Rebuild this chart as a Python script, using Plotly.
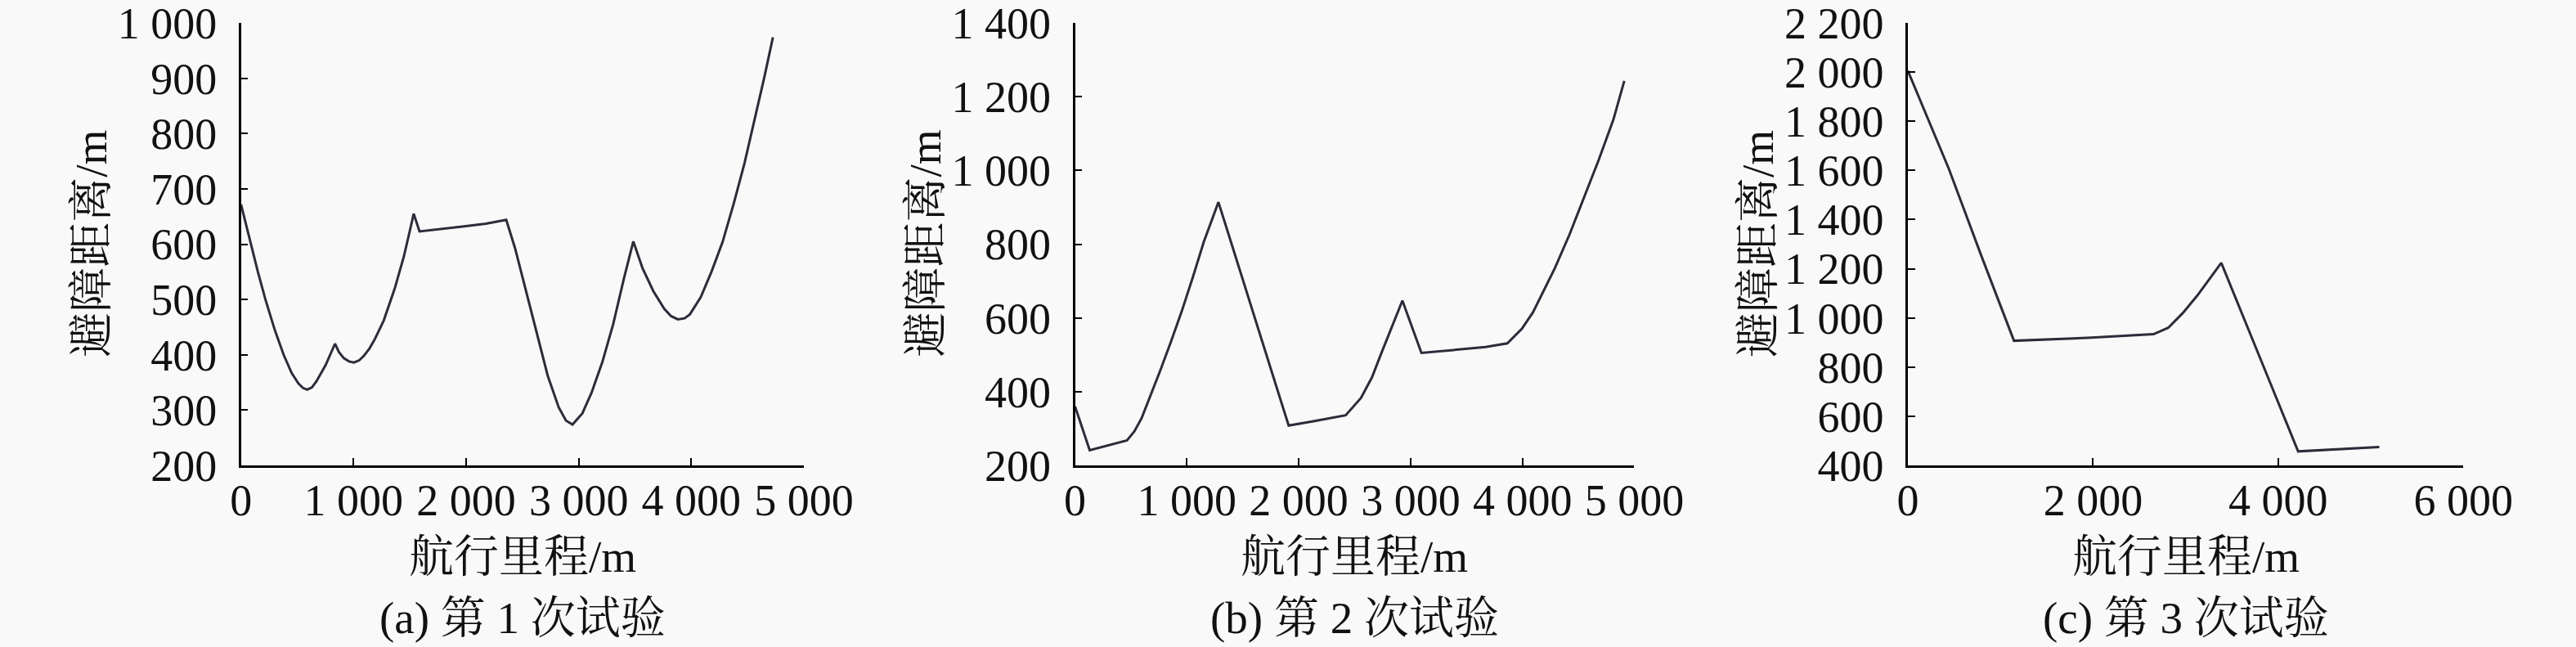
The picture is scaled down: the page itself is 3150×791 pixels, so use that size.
import plotly.graph_objects as go

# ---------------- data ----------------
# (a) trial 1
x1 = [0, 87, 150, 217, 300, 379, 450, 510, 550, 589, 630, 670, 751, 835, 870, 913, 960, 1003, 1050, 1091, 1140,
      1188, 1268, 1366, 1447, 1495, 1534,
      1586, 1786, 1980, 2175, 2356, 2434, 2531, 2628, 2725, 2822, 2887, 2945, 3032, 3113, 3210, 3307, 3404, 3485,
      3566, 3663, 3760, 3820, 3880, 3940, 3987, 4084, 4181, 4278, 4375, 4472, 4569, 4650, 4725]
y1 = [672, 600, 550, 500, 445, 400, 367, 348, 340, 337, 341, 352, 381, 420, 405, 394, 388, 386, 390, 398, 411,
      428, 462, 520, 578, 620, 655,
      623, 627, 632, 637, 644, 593, 515, 436, 362, 305, 281, 274, 294, 331, 387, 456, 540, 605,
      557, 515, 483, 470, 464, 466, 473, 504, 551, 604, 672, 746, 829, 903, 974]

# (b) trial 2
x2 = [0, 131, 464, 530, 595, 677, 759, 857, 955, 1053, 1151, 1282, 1596, 1910, 2132, 2420, 2557, 2655, 2737, 2819,
      2927, 3097, 3407, 3669, 3865, 3996, 4094, 4192, 4290, 4421, 4552, 4683, 4814, 4911]
y2 = [360, 241, 268, 292, 328, 391, 455, 535, 619, 710, 806, 914, 611, 308, 320, 336, 383, 439, 503, 567,
      647, 505, 513, 521, 531, 571, 615, 674, 735, 826, 926, 1029, 1138, 1243]

# (c) trial 3
x3 = [0, 442, 798, 1146, 1943, 2654, 2812, 2970, 3128, 3267, 3385, 3800, 4215, 5092]
y3 = [2005, 1607, 1248, 907, 919, 934, 960, 1020, 1092, 1164, 1224, 841, 457, 475]

# tick labels
xt1 = [0, 1000, 2000, 3000, 4000, 5000]
xt1_text = ["0", "1 000", "2 000", "3 000", "4 000", "5 000"]
yt1 = [200, 300, 400, 500, 600, 700, 800, 900, 1000]
yt1_text = ["200", "300", "400", "500", "600", "700", "800", "900", "1 000"]

xt2 = [0, 1000, 2000, 3000, 4000, 5000]
xt2_text = ["0", "1 000", "2 000", "3 000", "4 000", "5 000"]
yt2 = [200, 400, 600, 800, 1000, 1200, 1400]
yt2_text = ["200", "400", "600", "800", "1 000", "1 200", "1 400"]

xt3 = [0, 2000, 4000, 6000]
xt3_text = ["0", "2 000", "4 000", "6 000"]
yt3 = [400, 600, 800, 1000, 1200, 1400, 1600, 1800, 2000, 2200]
yt3_text = ["400", "600", "800", "1 000", "1 200", "1 400", "1 600", "1 800", "2 000", "2 200"]

x_title = "航行里程/m"
y_title = "避障距离/m"
captions = ["(a) 第 1 次试验", "(b) 第 2 次试验", "(c) 第 3 次试验"]

# ---------------- layout ----------------
W, H = 3150, 791
FONT = "Liberation Serif, 'Times New Roman', 'Noto Serif CJK SC', 'Noto Sans CJK SC', serif"
BG = "#F9F9FA"
LINE = "#2c2c3a"

panels = [
    dict(x=x1, y=y1, xr=[0, 5000], yr=[200, 1000], xt=xt1, xtt=xt1_text, yt=yt1, ytt=yt1_text, px=(294.7, 983.0)),
    dict(x=x2, y=y2, xr=[0, 5000], yr=[200, 1400], xt=xt2, xtt=xt2_text, yt=yt2, ytt=yt2_text, px=(1314.6, 1998.4)),
    dict(x=x3, y=y3, xr=[0, 6000], yr=[400, 2200], xt=xt3, xtt=xt3_text, yt=yt3, ytt=yt3_text, px=(2333.0, 3012.3)),
]
y_top, y_bot = 28.0, 569.0

fig = go.Figure()
annotations = []
for i, p in enumerate(panels):
    n = "" if i == 0 else str(i + 1)
    fig.add_trace(go.Scatter(x=p["x"], y=p["y"], mode="lines", xaxis="x" + n, yaxis="y" + n,
                             line=dict(color=LINE, width=3), showlegend=False, hoverinfo="skip"))
    common = dict(showgrid=False, zeroline=False, showline=True, linecolor="black",
                  ticks="inside", ticklen=9, tickwidth=2, tickcolor="black", automargin=False,
                  ticklabeloverflow="allow",
                  tickfont=dict(family=FONT, size=54, color="#111111"), tickmode="array")
    fig.layout["xaxis" + n] = dict(domain=[p["px"][0] / W, p["px"][1] / W], range=p["xr"], anchor="y" + n,
                                   tickvals=p["xt"], ticktext=p["xtt"], linewidth=3, ticklabelstandoff=-7, **common)
    fig.layout["yaxis" + n] = dict(domain=[1 - y_bot / H, 1 - y_top / H], range=p["yr"], anchor="x" + n,
                                   tickvals=p["yt"], ticktext=p["ytt"], linewidth=2.5, ticklabelstandoff=16, **common)
    cx = (p["px"][0] + p["px"][1]) / 2 / W
    annotations.append(dict(text=x_title, x=cx, y=1 - 680 / H, xref="paper", yref="paper", showarrow=False,
                            xanchor="center", yanchor="middle", font=dict(family=FONT, size=55, color="#111111")))
    annotations.append(dict(text=captions[i], x=cx, y=1 - 755 / H, xref="paper", yref="paper", showarrow=False,
                            xanchor="center", yanchor="middle", font=dict(family=FONT, size=55, color="#111111")))
    annotations.append(dict(text=y_title, x=(p["px"][0] - 184) / W, y=1 - 298 / H, xref="paper", yref="paper",
                            showarrow=False, textangle=-90, xanchor="center", yanchor="middle",
                            font=dict(family=FONT, size=55, color="#111111")))

fig.update_layout(width=W, height=H, margin=dict(l=0, r=0, t=0, b=0, autoexpand=False),
                  paper_bgcolor=BG, plot_bgcolor=BG, annotations=annotations, showlegend=False)

fig.write_html("out.html", config={"displayModeBar": False},
               post_script="document.body.style.margin='0px';document.body.style.background='%s';" % BG)
